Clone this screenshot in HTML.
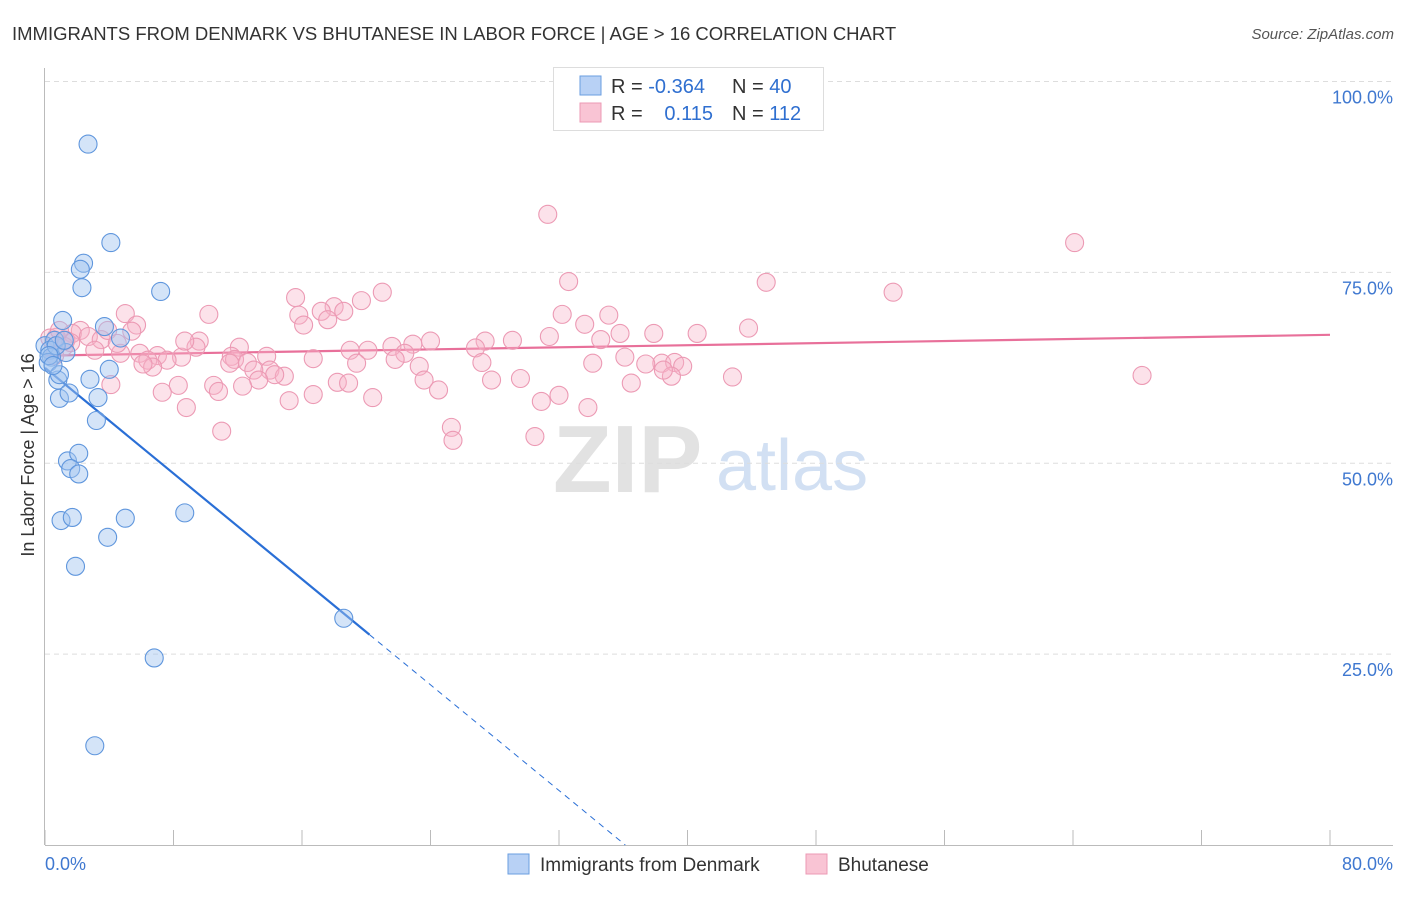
<!DOCTYPE html>
<html><head><meta charset="utf-8"><style>
body{margin:0;background:#fff;font-family:"Liberation Sans",sans-serif}
svg text{font-family:"Liberation Sans",sans-serif}
</style></head><body>
<svg id="c" width="1406" height="892" xmlns="http://www.w3.org/2000/svg">
<text x="12" y="40" font-size="18.5" fill="#333">IMMIGRANTS FROM DENMARK VS BHUTANESE IN LABOR FORCE | AGE &gt; 16 CORRELATION CHART</text>
<text x="1394" y="39" font-size="15" fill="#555" font-style="italic" text-anchor="end">Source: ZipAtlas.com</text>
<g>
<text x="553" y="492" font-size="96" font-family="Liberation Serif" fill="#e2e2e2" font-weight="bold">ZIP</text>
<text x="716" y="490" font-size="72" fill="#d2e0f3">atlas</text>
</g>
<g id="grid"></g><g id="axes"></g><g id="trend"></g><g id="pts"></g>
<text transform="translate(34,455) rotate(-90)" font-size="18" fill="#333" text-anchor="middle">In Labor Force | Age &gt; 16</text>
<g>
<rect x="553.5" y="67.5" width="270" height="63" fill="#fff" stroke="#ddd"/>
<rect x="580" y="76" width="21" height="19" fill="#b8d1f5" stroke="#6a9ee0"/>
<rect x="580" y="103" width="21" height="19" fill="#f9c4d4" stroke="#ec9ab4"/>
<text x="611" y="93" font-size="20" fill="#333">R = <tspan fill="#2f6fd0">-0.364</tspan></text>
<text x="732" y="93" font-size="20" fill="#333">N = <tspan fill="#2f6fd0">40</tspan></text>
<text x="611" y="120" font-size="20" fill="#333">R = </text>
<text x="713" y="120" font-size="20" fill="#2f6fd0" text-anchor="end">0.115</text>
<text x="732" y="120" font-size="20" fill="#333">N = <tspan fill="#2f6fd0">112</tspan></text>
</g>
<g>
<rect x="508" y="854" width="21" height="20" fill="#b8d1f5" stroke="#6a9ee0"/>
<text x="540" y="871" font-size="19" fill="#333">Immigrants from Denmark</text>
<rect x="806" y="854" width="21" height="20" fill="#f9c4d4" stroke="#ec9ab4"/>
<text x="838" y="871" font-size="19" fill="#333">Bhutanese</text>
</g>
</svg>
<script>
const yTicks=[25,50,75,100];
const yTickLabels=["25.0%","50.0%","75.0%","100.0%"];
const xTicks=[0,8,16,24,32,40,48,56,64,72,80];
const denmarkX=[2.68,4.1,2.4,2.2,2.3,7.2,1.1,3.7,4.7,0,0.6,0.3,1.3,0.4,4.0,0.8,2.8,0.9,1.5,3.3,3.2,1.4,2.1,1.6,2.1,1.0,1.7,5.0,3.9,8.7,1.9,18.6,6.8,3.1,0.2,0.7,0.25,0.9,0.5,1.2];
const denmarkY=[91.8,78.9,76.2,75.4,73.0,72.5,68.7,67.9,66.4,65.4,66.1,64.8,64.5,63.9,62.3,60.9,61.0,58.5,59.2,58.6,55.6,50.3,51.3,49.3,48.6,42.5,42.9,42.8,40.3,43.5,36.5,29.7,24.5,13.0,63.2,65.4,64.1,61.6,62.8,66.1];
const bhutanX=[31.3,64.1,32.6,44.9,52.8,21.0,15.6,19.7,18.0,17.2,32.2,18.6,10.2,5.0,15.8,35.1,17.6,16.1,33.6,5.7,43.8,40.6,35.8,37.9,2.2,1.7,5.4,2.7,31.4,24.0,29.1,27.4,9.6,1.3,0.7,3.5,9.4,12.1,19.0,20.1,21.6,22.9,26.8,34.6,4.7,5.9,3.1,7.0,8.5,11.6,13.8,22.4,11.8,36.1,16.7,6.4,7.6,11.5,12.6,6.7,19.4,21.8,23.3,27.2,34.1,38.4,39.2,37.4,39.7,14.0,13.0,14.9,14.3,13.3,10.5,8.3,4.1,18.2,18.9,23.6,27.8,29.6,36.5,42.8,39.0,38.5,68.3,7.3,10.8,24.5,16.7,20.4,32.0,30.9,15.2,8.8,33.8,11.0,25.3,25.4,30.5,3.9,1.2,0.3,1.6,0.6,4.5,8.7,6.1,12.3,0.9];
const bhutanY=[82.6,78.9,73.8,73.7,72.4,72.4,71.7,71.3,70.5,69.9,69.5,69.9,69.5,69.6,69.4,69.4,68.8,68.1,68.2,68.1,67.7,67.0,67.0,67.0,67.4,67.0,67.3,66.6,66.6,66.0,66.1,66.0,66.0,66.1,66.5,66.2,65.2,65.2,64.8,64.8,65.3,65.6,65.1,66.2,64.4,64.4,64.8,64.1,63.9,64.0,64.0,64.4,63.6,63.9,63.7,63.5,63.5,63.1,63.2,62.6,63.1,63.6,62.7,63.2,63.1,63.1,63.2,63.0,62.7,62.2,62.2,61.4,61.6,60.9,60.2,60.2,60.3,60.6,60.5,60.9,60.9,61.1,60.5,61.3,61.4,62.2,61.5,59.3,59.4,59.6,59.0,58.6,58.9,58.1,58.2,57.3,57.3,54.2,54.7,53.0,53.5,67.4,65.3,66.4,65.8,64.1,65.7,66.0,63.0,60.1,67.4];
const denmarkTrend=[62.5,-1.73];
const bhutanTrend=[64.1,0.034];
const X=v=>45+v*16.0625, Y=v=>845-v*7.635;
const NS="http://www.w3.org/2000/svg";
function mk(p,t,a){const e=document.createElementNS(NS,t);for(const k in a)e.setAttribute(k,a[k]);document.getElementById(p).appendChild(e);return e;}
yTicks.forEach((t,i)=>{
 const g=mk('grid','line',{x1:45,x2:1393,y1:Y(t),y2:Y(t),stroke:'#ddd','stroke-dasharray':'5,4'});
 
 
 const l=mk('axes','text',{x:1393,y:Y(t)+22,'font-size':18,fill:'#3f78d0','text-anchor':'end'});l.textContent=yTickLabels[i];
 
 
});
mk('axes','line',{x1:44.5,x2:44.5,y1:68,y2:845,stroke:'#bbb'});
mk('axes','line',{x1:45,x2:1393,y1:845.5,y2:845.5,stroke:'#bbb'});
xTicks.forEach(t=>{const e=mk('axes','line',{x1:X(t),x2:X(t),y1:830,y2:845,stroke:'#bbb'});
 
 });
let a=mk('axes','text',{x:45,y:870,'font-size':18,fill:'#3f78d0'});a.textContent='0.0%';


a=mk('axes','text',{x:1393,y:870,'font-size':18,fill:'#3f78d0','text-anchor':'end'});a.textContent='80.0%';


function pts(xs,ys,fill,stroke,name){xs.forEach((x,i)=>{const c=mk('pts','circle',{cx:X(x),cy:Y(ys[i]),r:9,fill:fill,stroke:stroke,'stroke-width':1.1});
 
 });}
pts(bhutanX,bhutanY,'rgba(248,178,200,0.38)','#ec9ab4','bhutanese-point');
pts(denmarkX,denmarkY,'rgba(160,196,240,0.45)','#5f96dd','denmark-point');
const dEnd=20.2, dZero=-denmarkTrend[0]/denmarkTrend[1];
let t=mk('trend','line',{x1:X(0),y1:Y(denmarkTrend[0]),x2:X(dEnd),y2:Y(denmarkTrend[0]+denmarkTrend[1]*dEnd),stroke:'#2a6fd6','stroke-width':2.2});


t=mk('trend','line',{x1:X(dEnd),y1:Y(denmarkTrend[0]+denmarkTrend[1]*dEnd),x2:X(dZero),y2:Y(0),stroke:'#2a6fd6','stroke-width':1,'stroke-dasharray':'6,5'});


t=mk('trend','line',{x1:X(0),y1:Y(bhutanTrend[0]),x2:X(80),y2:Y(bhutanTrend[0]+bhutanTrend[1]*80),stroke:'#e8709a','stroke-width':2.2});


</script>
</body></html>
